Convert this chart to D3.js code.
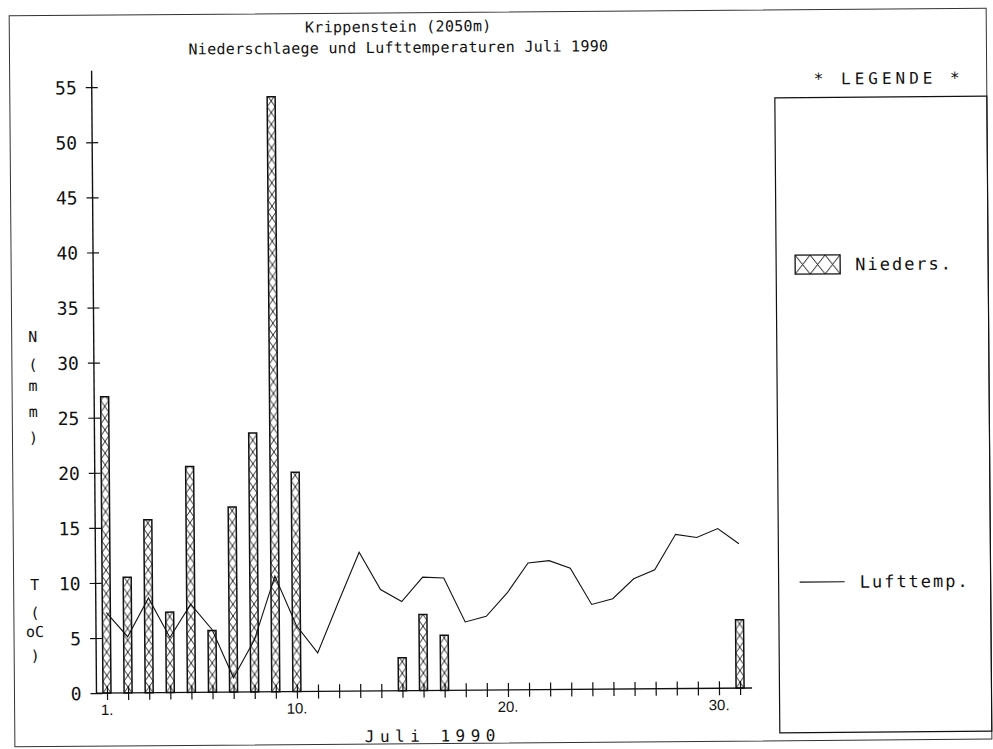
<!DOCTYPE html>
<html>
<head>
<meta charset="utf-8">
<script src="https://cdn.jsdelivr.net/npm/d3@7"></script>
<style>
  html, body { margin: 0; padding: 0; background: #fff; }
  svg { display: block; }
  text { font-family: "DejaVu Sans Mono", monospace; fill: #111; }
</style>
</head>
<body>
<svg id="chart" width="993" height="749"></svg>
<script>
// Krippenstein station, July 1990: daily precipitation (mm) and mean air temperature (°C)
const days = d3.range(1, 32);
const rainDays = [1, 2, 3, 4, 5, 6, 7, 8, 9, 10, 15, 16, 17, 31];
const rainMm = [26.9, 10.5, 15.7, 7.3, 20.5, 5.6, 16.8, 23.5, 54.0, 19.9, 3.0, 6.9, 5.0, 6.2];
const tempC = [7.3, 5.1, 8.6, 5.0, 8.0, 5.7, 1.3, 4.7, 10.5, 6.0, 3.5, 8.1, 12.6, 9.2, 8.1, 10.3,
               10.2, 6.2, 6.7, 8.8, 11.5, 11.7, 11.0, 7.7, 8.2, 10.0, 10.8, 14.0, 13.7, 14.5, 13.1];
const yTicks = d3.range(0, 56, 5);
const dayLabels = [1, 10, 20, 30];
const titleLines = ["Krippenstein (2050m)", "Niederschlaege und Lufttemperaturen Juli 1990"];
const xTitle = "Juli 1990";
const yTitleRain = ["N", "(", "m", "m", ")"];
const yTitleTemp = ["T", "(", "oC", ")"];
const legendTitle = "* LEGENDE *";
const legendRain = "Nieders.";
const legendTemp = "Lufttemp.";

const W = 993, H = 749;
const ink = "#111";

const svg = d3.select("#chart");
// the plotted sheet sits with a slight tilt
const sheet = svg.append("g").attr("transform", `rotate(-0.45, ${W / 2}, ${H / 2})`);

// scales: day of month -> x, value (mm or °C, shared axis) -> y
const x = d3.scaleLinear().domain([1, 30]).range([104.5, 716.5]);
const y = d3.scaleLinear().domain([0, 55]).range([690, 84]);
const axisX = 94;
const xEnd = x(31) + 12;
const yTop = y(56.5);

// outer frame and legend box
sheet.append("rect").attr("x", 12).attr("y", 12).attr("width", 977).attr("height", 731)
  .attr("fill", "none").attr("stroke", "#333").attr("stroke-width", 1);
sheet.append("rect").attr("x", 777).attr("y", 100).attr("width", 212).attr("height", 635)
  .attr("fill", "none").attr("stroke", ink).attr("stroke-width", 1.2);

// title
sheet.selectAll("text.title").data(titleLines).join("text")
  .attr("class", "title")
  .attr("x", 401).attr("y", (d, i) => 31 + i * 21)
  .attr("text-anchor", "middle")
  .style("font-size", "15px").style("letter-spacing", "0.3px")
  .text(d => d);

// hatch patterns, one per bar so the crosses start at each bar's left edge
const defs = svg.append("defs");
const barW = 8, hatchH = 11.7;
const bars = rainDays.map((d, i) => ({ day: d, mm: rainMm[i] }));

const pat = defs.selectAll("pattern.bar").data(bars).join("pattern")
  .attr("class", "bar")
  .attr("id", d => "hatch" + d.day)
  .attr("patternUnits", "userSpaceOnUse")
  .attr("x", d => x(d.day) - barW / 2).attr("y", y(0))
  .attr("width", barW).attr("height", hatchH);
pat.append("rect").attr("width", barW).attr("height", hatchH).attr("fill", "#fff");
pat.append("path").attr("d", `M0,0L${barW},${hatchH}M${barW},0L0,${hatchH}`)
  .attr("stroke", ink).attr("stroke-width", 0.9).attr("fill", "none");

const swatch = { x: 796, y: 257.5, w: 45, h: 19 };
const lp = defs.append("pattern").attr("id", "hatchLegend")
  .attr("patternUnits", "userSpaceOnUse")
  .attr("x", swatch.x).attr("y", swatch.y).attr("width", 15).attr("height", swatch.h);
lp.append("rect").attr("width", 15).attr("height", swatch.h).attr("fill", "#fff");
lp.append("path").attr("d", `M0,0L15,${swatch.h}M15,0L0,${swatch.h}`)
  .attr("stroke", ink).attr("stroke-width", 1).attr("fill", "none");

// precipitation bars
sheet.append("g").selectAll("rect").data(bars).join("rect")
  .attr("x", d => x(d.day) - barW / 2)
  .attr("y", d => y(d.mm))
  .attr("width", barW)
  .attr("height", d => y(0) - y(d.mm))
  .attr("fill", d => `url(#hatch${d.day})`)
  .attr("stroke", ink).attr("stroke-width", 1.5);

// y axis with ticks crossing the line
const yAxis = sheet.append("g").attr("transform", `translate(${axisX},0)`)
  .call(d3.axisLeft(y).tickValues(yTicks).tickSize(6).tickPadding(9).tickFormat(d3.format("d")));
yAxis.select(".domain").remove();
yAxis.selectAll(".tick line").attr("x1", -6).attr("x2", 6).attr("stroke", ink).attr("stroke-width", 1.2);
yAxis.selectAll(".tick text")
  .attr("x", -15).attr("dy", "0.36em")
  .style("font-family", "'DejaVu Sans Mono', monospace")
  .style("font-size", "18px").attr("fill", ink);
yAxis.append("line").attr("x1", 0).attr("x2", 0).attr("y1", yTop).attr("y2", y(0))
  .attr("stroke", ink).attr("stroke-width", 1.4);

// x axis: a cross tick on every day, labels on 1, 10, 20, 30
const xAxis = sheet.append("g").attr("transform", `translate(0,${y(0)})`)
  .call(d3.axisBottom(x).tickValues(days).tickSize(7).tickFormat(""));
xAxis.select(".domain").remove();
xAxis.selectAll(".tick line").attr("y1", -7).attr("y2", 7).attr("stroke", ink).attr("stroke-width", 1.2);
xAxis.append("line").attr("x1", axisX).attr("x2", xEnd).attr("y1", 0).attr("y2", 0)
  .attr("stroke", ink).attr("stroke-width", 1.4);
xAxis.selectAll("text.day").data(dayLabels).join("text")
  .attr("class", "day")
  .attr("x", d => x(d)).attr("y", 22)
  .attr("text-anchor", "middle")
  .style("font-family", "'Liberation Sans', Arial, sans-serif")
  .style("font-size", "15px")
  .text(d => d + ".");

// temperature line
sheet.append("path")
  .datum(days.map((d, i) => [d, tempC[i]]))
  .attr("d", d3.line().x(d => x(d[0])).y(d => y(d[1])))
  .attr("fill", "none").attr("stroke", ink).attr("stroke-width", 1.1);

// axis titles
sheet.append("text").attr("x", 430).attr("y", 741).attr("text-anchor", "middle")
  .style("font-size", "16px").style("letter-spacing", "5.5px").text(xTitle);

const rainTitleY = [333.4, 361.4, 382.4, 408.4, 434.4];
sheet.selectAll("text.yt1").data(yTitleRain).join("text")
  .attr("class", "yt1").attr("x", 33).attr("y", (d, i) => rainTitleY[i] + 5)
  .attr("text-anchor", "middle").style("font-size", "15px").text(d => d);
const tempTitleY = [581.4, 609.4, 628.4, 652.4];
sheet.selectAll("text.yt2").data(yTitleTemp).join("text")
  .attr("class", "yt2").attr("x", 33).attr("y", (d, i) => tempTitleY[i] + 5)
  .attr("text-anchor", "middle").style("font-size", "15px").text(d => d);

// legend
sheet.append("text").attr("x", 891).attr("y", 87).attr("text-anchor", "middle")
  .style("font-size", "16px").style("letter-spacing", "4px").text(legendTitle);
sheet.append("rect").attr("x", swatch.x).attr("y", swatch.y).attr("width", swatch.w).attr("height", swatch.h)
  .attr("fill", "url(#hatchLegend)").attr("stroke", ink).attr("stroke-width", 1.3);
sheet.append("text").attr("x", 856).attr("y", swatch.y + swatch.h / 2 + 6)
  .style("font-size", "17px").style("letter-spacing", "2px").text(legendRain);
sheet.append("line").attr("x1", 798).attr("x2", 843).attr("y1", 584.5).attr("y2", 584.5)
  .attr("stroke", ink).attr("stroke-width", 1.1);
sheet.append("text").attr("x", 858).attr("y", 590.5)
  .style("font-size", "17px").style("letter-spacing", "2px").text(legendTemp);
</script>
</body>
</html>
